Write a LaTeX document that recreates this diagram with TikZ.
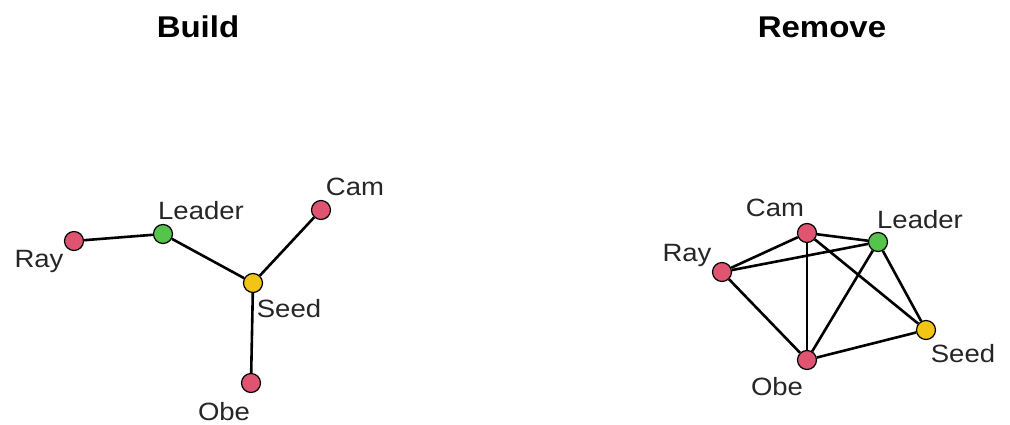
\documentclass[tikz,border=0pt]{standalone}
\usepackage{fontspec}
\setmainfont{Liberation Sans}[FakeStretch=1.1]
\definecolor{vred}{HTML}{DF5470}
\definecolor{vgreen}{HTML}{55C44C}
\definecolor{vyellow}{HTML}{F2C414}
\tikzset{
  vtx/.style={circle, draw=black, line width=1.2pt, minimum size=19pt, inner sep=0pt},
  edge/.style={line width=2.6pt, black},
  lbl/.style={anchor=base, inner sep=0pt, font=\fontsize{25}{26}\selectfont, text=black!85},
  ttl/.style={anchor=base, inner sep=0pt, font=\fontsize{30}{32}\selectfont\bfseries}
}
\begin{document}
\begin{tikzpicture}[x=1pt,y=-1pt]
\useasboundingbox[fill=white] (0,0) rectangle (1010,425);
% titles
\node[ttl] (t1) at (198,38) {Build};
\node[ttl] (t2) at (822,38) {Remove};
% Build graph
\node[vtx, fill=vred] (bRay) at (74,241) {};
\node[vtx, fill=vgreen] (bLeader) at (163,234) {};
\node[vtx, fill=vyellow] (bSeed) at (253,283) {};
\node[vtx, fill=vred] (bCam) at (321,210) {};
\node[vtx, fill=vred] (bObe) at (251,383) {};
\draw[edge] (bRay) -- (bLeader);
\draw[edge] (bLeader) -- (bSeed);
\draw[edge] (bSeed) -- (bCam);
\draw[edge] (bSeed) -- (bObe);
\node[lbl] (lbRay) at (39,267) {Ray};
\node[lbl] (lbLeader) at (201,219) {Leader};
\node[lbl] (lbCam) at (355,196) {Cam};
\node[lbl] (lbSeed) at (289,317) {Seed};
\node[lbl] (lbObe) at (224,420) {Obe};
% Remove graph
\node[vtx, fill=vred] (rCam) at (807,233) {};
\node[vtx, fill=vgreen] (rLeader) at (878,242) {};
\node[vtx, fill=vred] (rRay) at (722,272) {};
\node[vtx, fill=vyellow] (rSeed) at (926,330) {};
\node[vtx, fill=vred] (rObe) at (807,360) {};
\draw[edge] (rRay) -- (rCam);
\draw[edge] (rRay) -- (rLeader);
\draw[edge] (rRay) -- (rObe);
\draw[edge] (rCam) -- (rLeader);
\draw[edge] (rCam) -- (rObe);
\draw[edge] (rCam) -- (rSeed);
\draw[edge] (rLeader) -- (rObe);
\draw[edge] (rLeader) -- (rSeed);
\draw[edge] (rObe) -- (rSeed);
\node[lbl] (lrCam) at (775,216) {Cam};
\node[lbl] (lrLeader) at (920,229) {Leader};
\node[lbl] (lrRay) at (687,261) {Ray};
\node[lbl] (lrSeed) at (963,362) {Seed};
\node[lbl] (lrObe) at (777,395) {Obe};
\end{tikzpicture}
\end{document}
